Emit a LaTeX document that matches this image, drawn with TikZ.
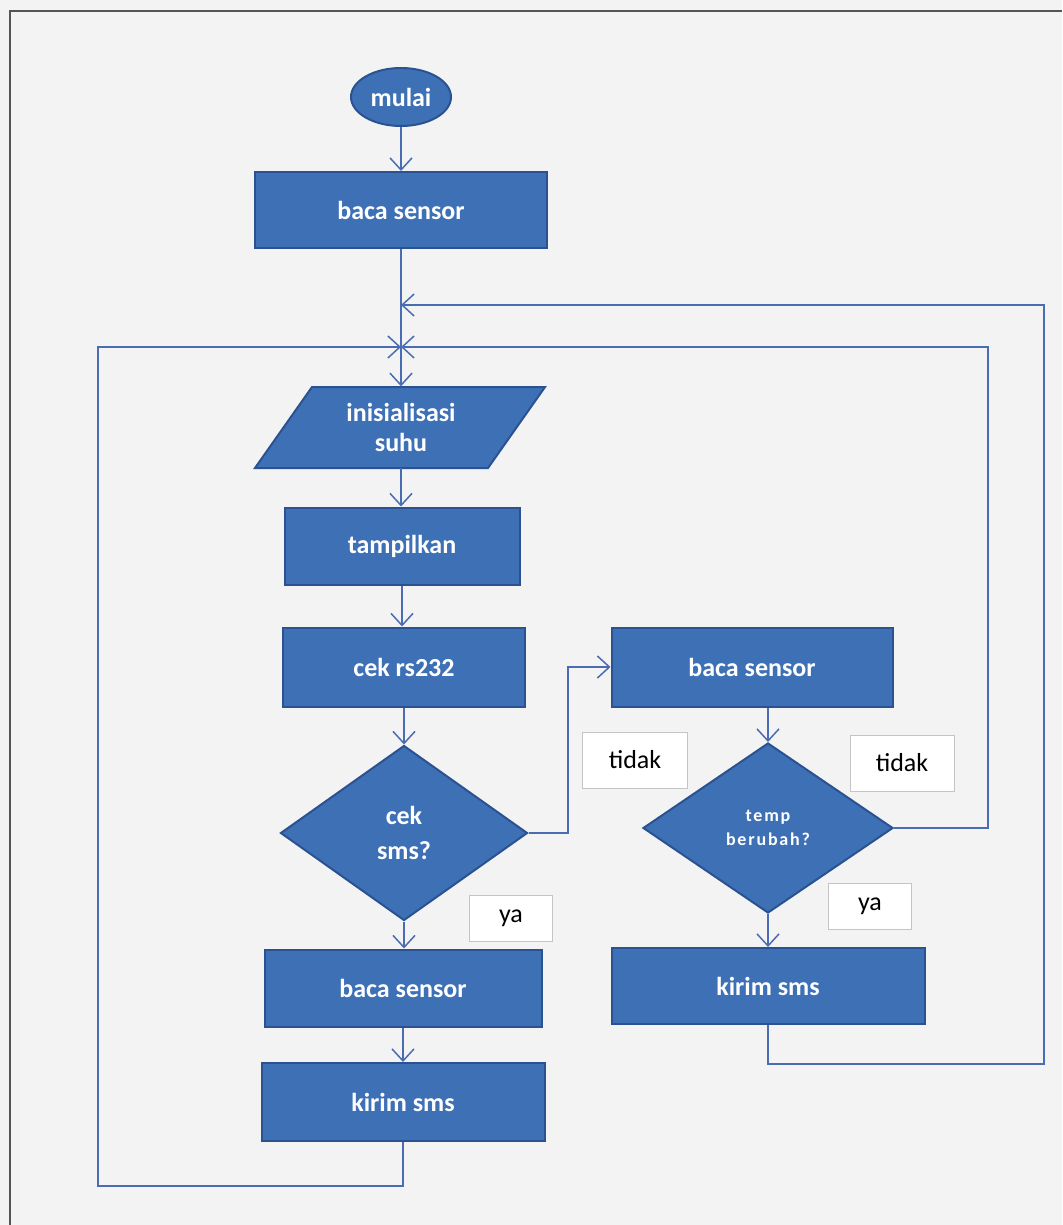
\documentclass[tikz,border=0pt]{standalone}
\usepackage{fontspec}
\setmainfont{Carlito}
\usetikzlibrary{shapes.geometric,arrows.meta}
\definecolor{boxfill}{HTML}{3E70B6}
\definecolor{boxdraw}{HTML}{2B5290}
\definecolor{linec}{HTML}{4A6CB2}
\definecolor{bgc}{HTML}{F3F3F3}
\definecolor{framec}{HTML}{555555}
\definecolor{lblc}{HTML}{C4C4C4}
\tikzset{
  procbox/.style={rectangle, fill=boxfill, draw=boxdraw, line width=2pt, text=white,
    font=\fontsize{26}{30}\selectfont\bfseries, inner sep=0pt, align=center},
  decbox/.style={diamond, fill=boxfill, draw=boxdraw, line width=2pt, text=white,
    inner sep=0pt, align=center},
  startbox/.style={ellipse, fill=boxfill, draw=boxdraw, line width=2pt, text=white,
    font=\fontsize{26}{30}\selectfont\bfseries, inner sep=0pt},
  lblbox/.style={rectangle, fill=white, draw=lblc, line width=1pt, text=black,
    font=\fontsize{26}{30}\selectfont, inner sep=0pt},
  conn/.style={draw=linec, line width=1.5pt, -{Straight Barb[length=12pt,width=22pt]}},
  plainconn/.style={draw=linec, line width=1.5pt}
}
\begin{document}
\begin{tikzpicture}[x=1pt,y=-1pt]
\fill[bgc] (0,0) rectangle (1062,1225);
\useasboundingbox (0,0) rectangle (1062,1225);
\draw[framec, line width=1.5pt] (10,1225) -- (10,11) -- (1062,11);

% nodes
\node[startbox, minimum width=100pt, minimum height=58pt] (mulai) at (401,97) {mulai};
\node[procbox, minimum width=292pt, minimum height=76pt] (bs1) at (401,210) {baca sensor};
\node[rectangle, minimum width=233pt, minimum height=81pt, inner sep=0pt] (inis) at (401,427) {};
\fill[boxfill, draw=boxdraw, line width=2pt] (312,387) -- (545,387) -- (488,468) -- (255,468) -- cycle;
\node[text=white, font=\fontsize{26}{30}\selectfont\bfseries, align=center] (inistext) at (inis.center) {inisialisasi\\suhu};
\node[procbox, minimum width=235pt, minimum height=77pt] (tamp) at (402,546) {tampilkan};
\node[procbox, minimum width=242pt, minimum height=79pt] (cek) at (404,667) {cek rs232};
\node[decbox, minimum width=247pt, minimum height=175pt, font=\fontsize{26}{35}\selectfont\bfseries] (smsq) at (404,833) {cek\\sms?};
\node[procbox, minimum width=277pt, minimum height=77pt] (bs3) at (403,988) {baca sensor};
\node[procbox, minimum width=283pt, minimum height=78pt] (ks1) at (403,1102) {kirim sms};
\node[procbox, minimum width=281pt, minimum height=79pt] (bs2) at (752,667) {baca sensor};
\node[decbox, minimum width=250pt, minimum height=170pt, font=\fontsize{18}{24}\selectfont\bfseries\addfontfeatures{LetterSpace=10}] (temp) at (768,828) {temp\\berubah?};
\node[procbox, minimum width=313pt, minimum height=76pt] (ks2) at (768,986) {kirim sms};

\node[lblbox, minimum width=105pt, minimum height=56pt] (tidak1) at (635,760) {tidak};
\node[lblbox, minimum width=104pt, minimum height=56pt] (tidak2) at (902,763) {tidak};
\node[lblbox, minimum width=83pt, minimum height=46pt] (ya1) at (511,918) {ya};
\node[lblbox, minimum width=83pt, minimum height=46pt] (ya2) at (870,906) {ya};

% junctions
\coordinate (j1) at (401,305);
\coordinate (j2) at (401,347);

% connectors
\draw[conn] (mulai.south) -- (bs1.north);
\draw[conn] (bs1.south) -- (bs1.south |- inis.north);
\draw[conn] (ks2.south) -- (768,1064) -- (1044,1064) -- (1044,305) -- (j1);
\draw[conn] (temp.east) -- (988,828) -- (988,347) -- (j2);
\draw[conn] (ks1.south) -- (403,1186) -- (98,1186) -- (98,347) -- (j2);
\draw[conn] (inis.south) -- (inis.south |- tamp.north);
\draw[conn] (tamp.south) -- (tamp.south |- cek.north);
\draw[conn] (cek.south) -- (smsq.north);
\draw[conn] (smsq.south |- smsq.south) -- (smsq.south |- bs3.north);
\draw[conn] (bs3.south) -- (ks1.north);
\draw[conn] (smsq.east) -- (568,833) -- (568,667) -- (bs2.west);
\draw[conn] (temp.north |- bs2.south) -- (temp.north);
\draw[conn] (temp.south) -- (ks2.north);
\end{tikzpicture}
\end{document}
